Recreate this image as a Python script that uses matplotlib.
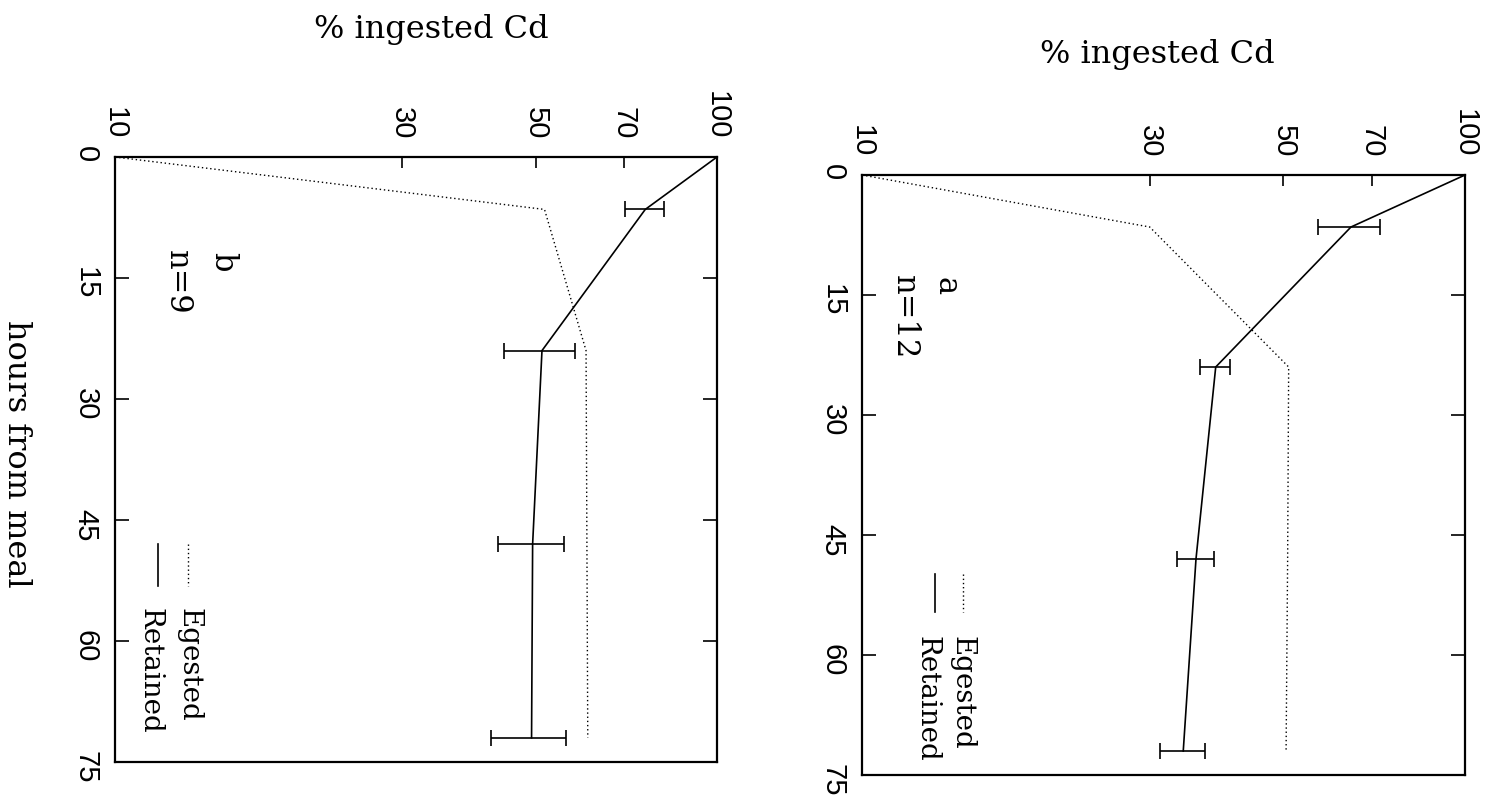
import matplotlib
matplotlib.use("Agg")
import matplotlib.pyplot as plt
from matplotlib.ticker import NullLocator

# hours after the meal at which the animals were sampled
hours = [0, 6.5, 24, 48, 72]

# panel a (n=12)
retained_a = [100, 64.7, 38.6, 35.8, 34.1]
retained_a_err = [0, 7.7, 2.2, 2.5, 2.9]
egested_a = [10, 30, 51, 50.8, 50.5]

# panel b (n=9)
retained_b = [100, 76, 51.2, 49.4, 49.2]
retained_b_err = [0, 5.7, 7.0, 6.2, 7.0]
egested_b = [10, 51.7, 60.6, 60.8, 61]

pct_ticks = [10, 30, 50, 70, 100]
hour_ticks = [0, 15, 30, 45, 60, 75]

W, H = 1498, 798
serif = "DejaVu Serif"
sans = "Liberation Sans"

fig = plt.figure(figsize=(W / 100, H / 100), dpi=100)


def panel(rect, ret, err, eg, tag, n, tag_xy, n_xy, leg_x, leg_y, text_x, text_top, title_x, title_y):
    ax = fig.add_axes(rect)
    # page is turned: % on the horizontal axis, hours run downwards
    ax.plot(eg, hours, color="black", lw=1.0, linestyle=(0, (1, 2)))
    ax.errorbar(ret, hours, xerr=err, color="black", lw=1.2, capsize=6,
                capthick=1.2, elinewidth=1.2)
    ax.set_xscale("log")
    ax.set_xlim(10, 100)
    ax.set_ylim(75, 0)
    ax.set_xticks(pct_ticks, labels=[str(t) for t in pct_ticks])
    ax.xaxis.set_minor_locator(NullLocator())
    ax.set_yticks(hour_ticks, labels=[str(t) for t in hour_ticks])
    ax.tick_params(axis="x", top=True, bottom=False, labeltop=True, labelbottom=False,
                   direction="in", length=8, width=1.2, pad=13, labelsize=21,
                   labelrotation=-90)
    ax.tick_params(axis="y", left=True, right=True, direction="in", length=10,
                   width=1.2, pad=11, labelsize=21, labelrotation=-90)
    for lab in ax.get_xticklabels() + ax.get_yticklabels():
        lab.set_family(sans)
    for s in ax.spines.values():
        s.set_linewidth(1.6)

    ax.text(title_x, title_y, "% ingested Cd", transform=ax.transAxes, ha="center",
            va="center", fontsize=23, family=serif)
    ax.text(tag_xy[0], tag_xy[1], tag, transform=ax.transAxes, rotation=-90,
            ha="center", va="top", fontsize=22, family=serif)
    ax.text(n_xy[0], n_xy[1], n, transform=ax.transAxes, rotation=-90,
            ha="center", va="top", fontsize=22, family=serif)

    # legend, turned with the page
    ax.plot([leg_x[0], leg_x[0]], leg_y, transform=ax.transAxes, color="black",
            lw=1.0, linestyle=(0, (1, 2)))
    ax.plot([leg_x[1], leg_x[1]], leg_y, transform=ax.transAxes, color="black", lw=1.2)
    ax.text(text_x[0], text_top, "Egested", transform=ax.transAxes, rotation=-90,
            ha="center", va="top", fontsize=20, family=serif)
    ax.text(text_x[1], text_top, "Retained", transform=ax.transAxes, rotation=-90,
            ha="center", va="top", fontsize=20, family=serif)
    return ax


axa = panel([862 / W, 1 - 775 / H, 603 / W, 600 / H], retained_a, retained_a_err,
            egested_a, "a", "n=12", (0.139, 0.83), (0.07, 0.833),
            (0.1675, 0.121), [0.335, 0.272], (0.165, 0.108), 0.232, 0.49, 1.2)

axb = panel([115 / W, 1 - 762 / H, 602 / W, 605 / H], retained_b, retained_b_err,
            egested_b, "b", "n=9", (0.178, 0.843), (0.103, 0.847),
            (0.121, 0.071), [0.36, 0.291], (0.123, 0.058), 0.254, 0.525, 1.21)

axb.text(-0.164, 0.51, "hours from meal", transform=axb.transAxes, rotation=-90,
         ha="center", va="center", fontsize=23, family=serif)

fig.savefig("out.png", dpi=100)
